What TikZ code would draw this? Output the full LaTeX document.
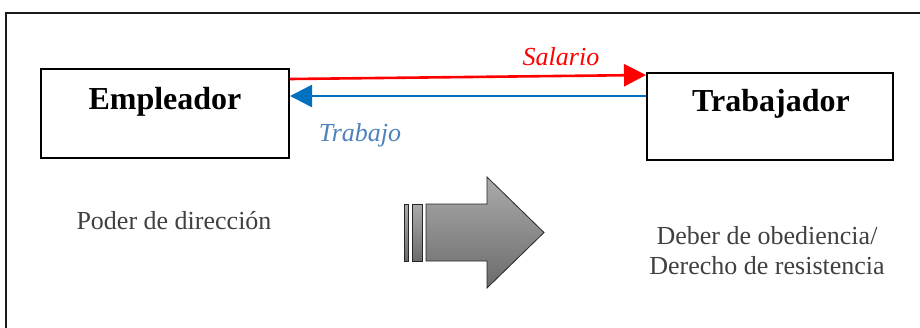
\documentclass[tikz,border=0pt]{standalone}
\usepackage{fontspec}
\setmainfont{Liberation Serif}
\usetikzlibrary{arrows.meta}
\definecolor{arrred}{HTML}{FF0000}
\definecolor{arrblue}{HTML}{0070C0}
\definecolor{lblblue}{HTML}{4F81BD}
\definecolor{txtgray}{HTML}{404040}
\definecolor{framegray}{HTML}{1A1A1A}
\begin{document}
\begin{tikzpicture}[x=1pt,y=-1pt,
  partybox/.style={draw=black,line width=2pt,rectangle,inner sep=0pt},
  partytext/.style={font=\fontsize{32}{36}\selectfont\bfseries,text=black,inner sep=0pt},
  flowlbl/.style={font=\fontsize{26}{30}\selectfont\itshape,inner sep=0pt},
  sidetext/.style={font=\fontsize{26}{30}\selectfont,text=txtgray,inner sep=0pt,align=center},
  flowarrow/.style={line width=2.6pt,-{Triangle[length=22pt,width=22pt]}},
  bigarrow/.style={draw=black!85,line width=0.8pt,top color=black!33,bottom color=black!58}
]
\useasboundingbox (0,0) rectangle (920,327);
\clip (0,0) rectangle (920,327);
% outer frame
\draw[framegray,line width=2pt] (6,360) -- (6,13) -- (960,13);
% boxes
\node[partybox,minimum width=248pt,minimum height=89pt] (emp) at (165,113.5) {};
\node[partybox,minimum width=246pt,minimum height=87pt] (trab) at (770,116.5) {};
\node[partytext] (empt) at (165,102) {Empleador};
\node[partytext] (trabt) at (771,104) {Trabajador};
% flows
\draw[flowarrow,arrred] ([yshift=-11pt]emp.north east) -- ([yshift=-3pt]trab.north west);
\draw[flowarrow,arrblue] ([yshift=-24pt]trab.north west) -- ([yshift=-28pt]emp.north east);
\node[flowlbl,text=arrred] (sal) at (561,57) {Salario};
\node[flowlbl,text=lblblue] (trj) at (360,135) {Trabajo};
% side texts
\node[sidetext] (poder) at (174,221) {Poder de dirección};
\node[sidetext] (deber) at (767,251) {Deber de obediencia/\\Derecho de resistencia};
% big gray arrow
\path[bigarrow] (404,204) rectangle (408,261);
\path[bigarrow] (412,204) rectangle (422,261);
\path[bigarrow] (426,204) -- (487,204) -- (487,177) -- (544,232.5) -- (487,288) -- (487,261) -- (426,261) -- cycle;
\end{tikzpicture}
\end{document}
